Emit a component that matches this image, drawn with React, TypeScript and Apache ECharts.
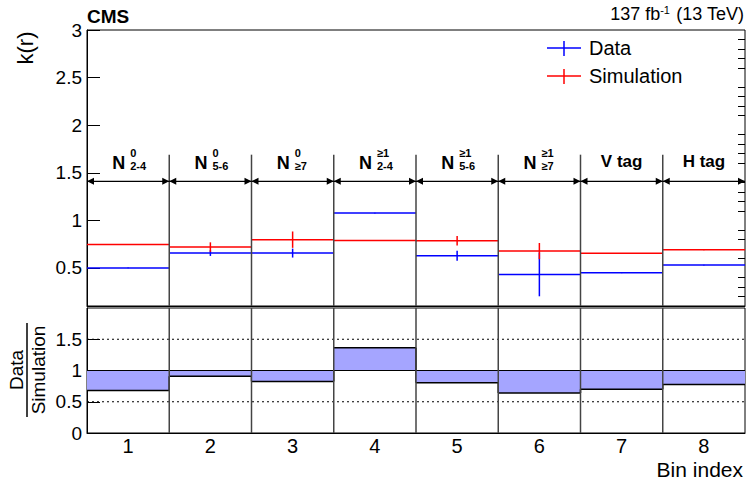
import React, { useEffect, useRef } from "react";
import * as echarts from "echarts";

const bins = [1, 2, 3, 4, 5, 6, 7, 8];
const dataVals = [0.5, 0.656, 0.656, 1.077, 0.628, 0.432, 0.449, 0.53];
const dataErrs = [0.004, 0.03, 0.047, 0.004, 0.053, 0.23, 0.004, 0.004];
const simVals = [0.747, 0.719, 0.797, 0.789, 0.786, 0.677, 0.653, 0.691];
const simErrs = [0.004, 0.05, 0.086, 0.004, 0.05, 0.085, 0.004, 0.004];
const ratioVals = [0.68, 0.91, 0.825, 1.365, 0.805, 0.64, 0.7, 0.775];

const labelMain = ["N", "N", "N", "N", "N", "N", "V tag", "H tag"];
const labelSup = ["0", "0", "0", "≥1", "≥1", "≥1", "", ""];
const labelSub = ["2-4", "5-6", "≥7", "2-4", "5-6", "≥7", "", ""];

const boundaries = [1.5, 2.5, 3.5, 4.5, 5.5, 6.5, 7.5];
const yTicksTop = [0.5, 1, 1.5, 2, 2.5, 3];
const yTicksRatio = [0, 0.5, 1, 1.5];
const ratioRefLines = [0.5, 1.5];
const arrowLevel = 1.41;
const sepTop = 1.69;

const FONT = "'Liberation Sans', Arial, Helvetica, sans-serif";

function minorTicks(): number[] {
  const out: number[] = [];
  for (let i = 2; i <= 29; i++) {
    if (i % 5 !== 0) out.push(Math.round(i) / 10);
  }
  return out;
}

function hbar(color: string) {
  return (params: any, api: any) => {
    const b = api.value(0);
    const v = api.value(1);
    const e = api.value(2);
    const p0 = api.coord([b - 0.5, v]);
    const p1 = api.coord([b + 0.5, v]);
    const lo = api.coord([b, v - e]);
    const hi = api.coord([b, v + e]);
    return {
      type: "group",
      children: [
        { type: "line", shape: { x1: p0[0], y1: p0[1], x2: p1[0], y2: p1[1] }, style: { stroke: color, lineWidth: 1.5 } },
        { type: "line", shape: { x1: lo[0], y1: lo[1], x2: hi[0], y2: hi[1] }, style: { stroke: color, lineWidth: 1.5 } },
      ],
    };
  };
}

export default function App() {
  const ref = useRef<HTMLDivElement>(null);
  useEffect(() => {
    if (!ref.current) return;
    const chart = echarts.init(ref.current, null, { renderer: "svg" });
    const option: any = {
      animation: false,
      backgroundColor: "#fff",
      textStyle: { fontFamily: FONT },
      grid: [
        { left: 87, right: 2, top: 30, height: 276, show: true, borderColor: "#000", borderWidth: 1, backgroundColor: "transparent" },
        { left: 87, right: 2, top: 308, height: 125, show: true, borderColor: "#000", borderWidth: 1, backgroundColor: "transparent" },
      ],
      xAxis: [
        {
          gridIndex: 0, type: "value", min: 0.5, max: 8.5,
          axisLine: { show: true, onZero: false, lineStyle: { color: "#000", width: 1 } },
          axisTick: { show: false }, axisLabel: { show: false }, splitLine: { show: false },
        },
        {
          gridIndex: 1, type: "value", min: 0.5, max: 8.5,
          axisLine: { show: true, onZero: false, lineStyle: { color: "#000", width: 1 } },
          axisTick: { show: false },
          axisLabel: { show: true, customValues: bins, fontSize: 20, lineHeight: 20, color: "#000", margin: 3, fontFamily: FONT },
          splitLine: { show: false },
        },
      ],
      yAxis: [
        {
          gridIndex: 0, type: "value", min: 0.1, max: 3,
          axisLine: { show: true, onZero: false, lineStyle: { color: "#000", width: 1 } },
          axisTick: { show: true, inside: true, length: 13, customValues: yTicksTop, lineStyle: { color: "#000" } },
          axisLabel: { show: true, customValues: yTicksTop, fontSize: 19, color: "#000", margin: 5, fontFamily: FONT },
          splitLine: { show: false },
        },
        {
          gridIndex: 0, type: "value", min: 0.1, max: 3,
          axisLine: { show: false, onZero: false },
          axisTick: { show: true, inside: true, length: 7, customValues: minorTicks(), lineStyle: { color: "#000" } },
          axisLabel: { show: false },
          splitLine: { show: false },
        },
        {
          gridIndex: 1, type: "value", min: 0, max: 2,
          axisLine: { show: true, onZero: false, lineStyle: { color: "#000", width: 1 } },
          axisTick: { show: true, inside: true, length: 13, customValues: yTicksRatio, lineStyle: { color: "#000" } },
          axisLabel: { show: true, customValues: yTicksRatio, fontSize: 19, color: "#000", margin: 5, fontFamily: FONT },
          splitLine: { show: false },
        },
      ],
      series: [
        {
          type: "custom", name: "Data", xAxisIndex: 0, yAxisIndex: 0, z: 3,
          data: bins.map((b, i) => [b, dataVals[i], dataErrs[i]]),
          renderItem: hbar("#0000ff"),
        },
        {
          type: "custom", name: "Simulation", xAxisIndex: 0, yAxisIndex: 0, z: 4,
          data: bins.map((b, i) => [b, simVals[i], simErrs[i]]),
          renderItem: hbar("#ff0000"),
        },
        {
          type: "custom", name: "ratio", xAxisIndex: 1, yAxisIndex: 2, z: 2,
          data: bins.map((b, i) => [b, ratioVals[i], i < bins.length - 1 ? ratioVals[i + 1] : ratioVals[i]]),
          renderItem: (params: any, api: any) => {
            const b = api.value(0);
            const r = api.value(1);
            const rn = api.value(2);
            const a = api.coord([b - 0.5, 1]);
            const c = api.coord([b + 0.5, r]);
            const d = api.coord([b + 0.5, rn]);
            return {
              type: "group",
              children: [
                {
                  type: "rect",
                  shape: { x: a[0], y: Math.min(a[1], c[1]), width: c[0] - a[0], height: Math.abs(c[1] - a[1]) },
                  style: { fill: "#a5a5ff", stroke: "none" },
                },
                { type: "line", shape: { x1: a[0], y1: c[1], x2: c[0], y2: c[1] }, style: { stroke: "#000", lineWidth: 1.5 } },
                { type: "line", shape: { x1: a[0], y1: a[1], x2: c[0], y2: a[1] }, style: { stroke: "#000", lineWidth: 1.2 } },
                { type: "line", shape: { x1: c[0], y1: c[1], x2: d[0], y2: d[1] }, style: { stroke: "#000", lineWidth: 1.5 } },
              ],
            };
          },
        },
        {
          type: "custom", name: "refLines", xAxisIndex: 1, yAxisIndex: 2, z: 1,
          data: ratioRefLines.map((v) => [v]),
          renderItem: (params: any, api: any) => {
            const v = api.value(0);
            const p0 = api.coord([0.5, v]);
            const p1 = api.coord([8.5, v]);
            return {
              type: "line",
              shape: { x1: p0[0], y1: p0[1], x2: p1[0], y2: p1[1] },
              style: { stroke: "#000", lineWidth: 1, lineDash: [2, 3] },
            };
          },
        },
        {
          type: "custom", name: "sepTop", xAxisIndex: 0, yAxisIndex: 0, z: 5, clip: false,
          data: boundaries.map((v) => [v]),
          renderItem: (params: any, api: any) => {
            const x = api.value(0);
            const p0 = api.coord([x, sepTop]);
            const p1 = api.coord([x, 0.1]);
            return { type: "line", shape: { x1: p0[0], y1: p0[1], x2: p1[0], y2: p1[1] }, style: { stroke: "#444", lineWidth: 1.5 } };
          },
        },
        {
          type: "custom", name: "sepBottom", xAxisIndex: 1, yAxisIndex: 2, z: 5, clip: false,
          data: boundaries.map((v) => [v]),
          renderItem: (params: any, api: any) => {
            const x = api.value(0);
            const p0 = api.coord([x, 2]);
            const p1 = api.coord([x, 0]);
            return { type: "line", shape: { x1: p0[0], y1: p0[1], x2: p1[0], y2: p1[1] }, style: { stroke: "#444", lineWidth: 1.5 } };
          },
        },
        {
          type: "custom", name: "arrows", xAxisIndex: 0, yAxisIndex: 0, z: 6, clip: false,
          data: bins.map((b) => [b]),
          renderItem: (params: any, api: any) => {
            const i = params.dataIndex;
            const b = api.value(0);
            const l = api.coord([b - 0.5, arrowLevel]);
            const r = api.coord([b + 0.5, arrowLevel]);
            const c = api.coord([b, arrowLevel]);
            const y = l[1];
            const al = 7;
            const ah = 3.5;
            const children: any[] = [
              { type: "line", shape: { x1: l[0], y1: y, x2: r[0], y2: y }, style: { stroke: "#000", lineWidth: 1.2 } },
              { type: "polygon", shape: { points: [[l[0], y], [l[0] + al, y - ah], [l[0] + al, y + ah]] }, style: { fill: "#000" } },
              { type: "polygon", shape: { points: [[r[0], y], [r[0] - al, y - ah], [r[0] - al, y + ah]] }, style: { fill: "#000" } },
            ];
            if (labelSup[i] || labelSub[i]) {
              children.push({
                type: "text",
                style: { text: labelMain[i], x: c[0] - 16, y: y - 18.5, font: `bold 18px ${FONT}`, lineHeight: 18, fill: "#000", textAlign: "left", textVerticalAlign: "middle" },
              });
              children.push({
                type: "text",
                style: { text: labelSup[i], x: c[0] + 2, y: y - 28, font: `bold 11px ${FONT}`, lineHeight: 11, fill: "#000", textAlign: "left", textVerticalAlign: "middle" },
              });
              children.push({
                type: "text",
                style: { text: labelSub[i], x: c[0] + 2, y: y - 15.5, font: `bold 11px ${FONT}`, lineHeight: 11, fill: "#000", textAlign: "left", textVerticalAlign: "middle" },
              });
            } else {
              children.push({
                type: "text",
                style: { text: labelMain[i], x: c[0], y: y - 19.5, font: `bold 17px ${FONT}`, fill: "#000", textAlign: "center", textVerticalAlign: "middle" },
              });
            }
            return { type: "group", children };
          },
        },
      ],
      graphic: [
        { type: "text", x: 87, y: 16, style: { text: "CMS", font: `bold 19px ${FONT}`, fill: "#000", textAlign: "left", textVerticalAlign: "middle" } },
        {
          type: "text", x: 744, y: 14,
          style: {
            text: "{a|137 fb}{s|-1}{a| (13 TeV)}",
            textAlign: "right", textVerticalAlign: "middle",
            rich: {
              a: { fontSize: 18, fontFamily: FONT, fill: "#000", color: "#000" },
              s: { fontSize: 11, fontFamily: FONT, color: "#000", fill: "#000", verticalAlign: "top", padding: [0, 1, 8, 0] },
            },
          },
        },
        { type: "text", x: 25, y: 48, rotation: Math.PI / 2, style: { text: "k(r)", font: `22px ${FONT}`, fill: "#000", textAlign: "center", textVerticalAlign: "middle" } },
        { type: "text", x: 16, y: 370, rotation: Math.PI / 2, style: { text: "Data", font: `19px ${FONT}`, fill: "#000", textAlign: "center", textVerticalAlign: "middle" } },
        { type: "line", shape: { x1: 27, y1: 323, x2: 27, y2: 417 }, style: { stroke: "#000", lineWidth: 1.5 } },
        { type: "text", x: 38.5, y: 370, rotation: Math.PI / 2, style: { text: "Simulation", font: `19px ${FONT}`, fill: "#000", textAlign: "center", textVerticalAlign: "middle" } },
        { type: "text", x: 743, y: 469, style: { text: "Bin index", font: `21px ${FONT}`, fill: "#000", textAlign: "right", textVerticalAlign: "middle" } },
        { type: "line", shape: { x1: 547, y1: 48, x2: 581, y2: 48 }, style: { stroke: "#0000ff", lineWidth: 1.5 } },
        { type: "line", shape: { x1: 564, y1: 41, x2: 564, y2: 56 }, style: { stroke: "#0000ff", lineWidth: 1.5 } },
        { type: "text", x: 589, y: 48, style: { text: "Data", font: `20px ${FONT}`, fill: "#000", textAlign: "left", textVerticalAlign: "middle" } },
        { type: "line", shape: { x1: 547, y1: 76, x2: 581, y2: 76 }, style: { stroke: "#ff0000", lineWidth: 1.5 } },
        { type: "line", shape: { x1: 564, y1: 69, x2: 564, y2: 84 }, style: { stroke: "#ff0000", lineWidth: 1.5 } },
        { type: "text", x: 589, y: 76, style: { text: "Simulation", font: `20px ${FONT}`, fill: "#000", textAlign: "left", textVerticalAlign: "middle" } },
      ],
    };
    chart.setOption(option);
    return () => chart.dispose();
  }, []);
  return <div ref={ref} style={{ position: "absolute", left: 0, top: 0, width: 747, height: 480 }} />;
}
